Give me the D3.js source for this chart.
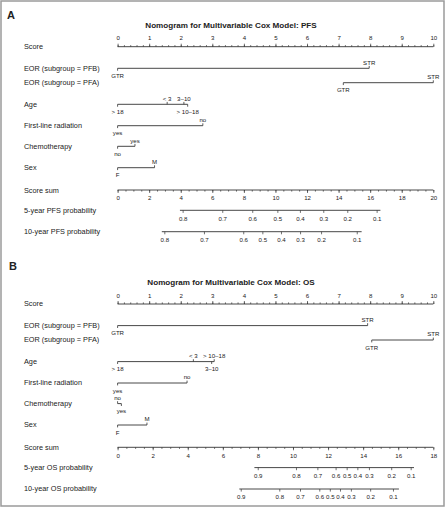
<!DOCTYPE html>
<html><head><meta charset="utf-8">
<script src="https://cdn.jsdelivr.net/npm/d3@7"></script>
<style>
body{margin:0;background:#fff}
svg{display:block}
text{font-family:"Liberation Sans",Arial,Helvetica,sans-serif;fill:#222}
</style>
</head><body>
<svg id="chart" width="446" height="509"></svg>
<script>
// ---------------- DATA ----------------
const panelLetters = ["A", "B"];
const panelTitles = ["Nomogram for Multivariable Cox Model: PFS", "Nomogram for Multivariable Cox Model: OS"];
const rowLabelsPFS = ["Score", "EOR (subgroup = PFB)", "EOR (subgroup = PFA)", "Age", "First-line radiation",
  "Chemotherapy", "Sex", "Score sum", "5-year PFS probability", "10-year PFS probability"];
const rowLabelsOS = ["Score", "EOR (subgroup = PFB)", "EOR (subgroup = PFA)", "Age", "First-line radiation",
  "Chemotherapy", "Sex", "Score sum", "5-year OS probability", "10-year OS probability"];

const scoreTicks = [0, 1, 2, 3, 4, 5, 6, 7, 8, 9, 10];
const scoreMinorStep = 0.2;

// Panel A (PFS): variable levels and their points
const pfsEorPfbLevels = ["GTR", "STR"];           const pfsEorPfbPoints = [0, 7.97];
const pfsEorPfaLevels = ["GTR", "STR"];           const pfsEorPfaPoints = [7.15, 10];
const pfsAgeLevels = ["> 18", "< 3", "3–10", "> 10–18"]; const pfsAgePoints = [0, 1.57, 2.1, 2.22];
const pfsRadLevels = ["yes", "no"];               const pfsRadPoints = [0, 2.7];
const pfsChemoLevels = ["no", "yes"];             const pfsChemoPoints = [0, 0.55];
const pfsSexLevels = ["F", "M"];                  const pfsSexPoints = [0, 1.17];
const pfsSumTicks = [0, 2, 4, 6, 8, 10, 12, 14, 16, 18, 20];
const pfs5Probs = [0.8, 0.7, 0.6, 0.5, 0.4, 0.3, 0.2, 0.1];
const pfs5Sums = [4.12, 6.63, 8.53, 10.12, 11.55, 13.03, 14.55, 16.41];
const pfs5Range = [3.95, 16.65];
const pfs10Probs = [0.8, 0.7, 0.6, 0.5, 0.4, 0.3, 0.2, 0.1];
const pfs10Sums = [2.96, 5.47, 7.96, 9.17, 10.35, 11.56, 12.89, 15.15];
const pfs10Range = [2.8, 15.46];

// Panel B (OS)
const osEorPfbLevels = ["GTR", "STR"];            const osEorPfbPoints = [0, 7.92];
const osEorPfaLevels = ["GTR", "STR"];            const osEorPfaPoints = [8.05, 10];
const osAgeLevels = ["> 18", "< 3", "3–10", "> 10–18"]; const osAgePoints = [0, 2.4, 2.98, 3.06];
const osRadLevels = ["yes", "no"];                const osRadPoints = [0, 2.2];
const osChemoLevels = ["no", "yes"];              const osChemoPoints = [0, 0.12];
const osSexLevels = ["F", "M"];                   const osSexPoints = [0, 0.93];
const osSumTicks = [0, 2, 4, 6, 8, 10, 12, 14, 16, 18];
const os5Probs = [0.9, 0.8, 0.7, 0.6, 0.5, 0.4, 0.3, 0.2, 0.1];
const os5Sums = [7.99, 10.17, 11.39, 12.43, 13.06, 13.67, 14.33, 15.6, 16.71];
const os5Range = [7.8, 16.9];
const os10Probs = [0.9, 0.8, 0.7, 0.6, 0.5, 0.4, 0.3, 0.2, 0.1];
const os10Sums = [7.02, 9.22, 10.40, 11.50, 12.10, 12.68, 13.30, 14.40, 15.70];
const os10Range = [6.94, 16.04];

// ---------------- LAYOUT ----------------
const X0 = 117.6, X1 = 433.3;
const rowY = [46.7, 68.3, 82.7, 104.3, 125.7, 146.3, 167.7, 190, 210.3, 231.7];
const panelOffsets = [0, 257.3];
const letterY = [15, 266];
const letterX = [7, 9];
const titleY = [25, 282];

const svg = d3.select("#chart");
svg.append("rect").attr("x", 1).attr("y", 1).attr("width", 443).attr("height", 505)
  .attr("fill", "none").attr("stroke", "#9a9a9a").attr("stroke-width", 1.5);

const LINE = "#333";
const FS_ROW = 7.3, FS_TICK = 6.1;

function variableRow(g, y, scale, levels, points, sides) {
  const gg = g.append("g").attr("transform", `translate(0,${y})`);
  gg.append("line").attr("x1", scale(d3.min(points))).attr("x2", scale(d3.max(points)))
    .attr("y1", 0).attr("y2", 0).attr("stroke", LINE).attr("stroke-width", 0.9);
  levels.forEach((lv, i) => {
    const x = scale(points[i]);
    const s = sides[i]; // -1 above, +1 below
    gg.append("line").attr("x1", x).attr("x2", x).attr("y1", 0).attr("y2", s * 2.4)
      .attr("stroke", LINE).attr("stroke-width", 0.8);
    gg.append("text").attr("x", x).attr("y", s < 0 ? -6.2 : 7.2)
      .attr("text-anchor", "middle").attr("dominant-baseline", "central")
      .attr("font-size", FS_TICK).text(lv);
  });
}

function styleAxis(sel) {
  sel.select(".domain").remove();
  sel.selectAll(".tick line").attr("stroke", LINE).attr("stroke-width", 0.7);
  sel.selectAll(".tick text").attr("font-size", FS_TICK).attr("fill", "#222")
    .attr("font-family", '"Liberation Sans",Arial,sans-serif');
}

function probRow(g, y, sumScale, probs, sums, range) {
  const gg = g.append("g").attr("transform", `translate(0,${y})`);
  gg.append("line").attr("x1", sumScale(range[0])).attr("x2", sumScale(range[1]))
    .attr("y1", 0).attr("y2", 0).attr("stroke", LINE).attr("stroke-width", 0.9);
  const ax = d3.axisBottom(sumScale).tickValues(sums).tickSize(2.6).tickPadding(3.5)
    .tickFormat((d, i) => d3.format(".1f")(probs[i]));
  gg.append("g").call(ax).call(styleAxis);
}

function drawPanel(p, cfg) {
  const g = svg.append("g").attr("transform", `translate(0,${panelOffsets[p]})`);
  svg.append("text").attr("x", letterX[p]).attr("y", letterY[p]).attr("dominant-baseline", "central")
    .attr("font-size", 11).attr("font-weight", "bold").attr("fill", "#111").text(panelLetters[p]);
  svg.append("text").attr("x", 231).attr("y", titleY[p]).attr("text-anchor", "middle")
    .attr("dominant-baseline", "central").attr("font-size", 8.1).attr("font-weight", "bold")
    .attr("fill", "#111").text(panelTitles[p]);

  // row labels
  cfg.rowLabels.forEach((t, i) => {
    g.append("text").attr("x", 24).attr("y", rowY[i]).attr("dominant-baseline", "central")
      .attr("font-size", FS_ROW).text(t);
  });

  const scale = d3.scaleLinear().domain([0, 10]).range([X0, X1]);
  const sumScale = d3.scaleLinear().domain([0, d3.max(cfg.sumTicks)]).range([X0, X1]);

  // Score axis
  const sg = g.append("g").attr("transform", `translate(0,${rowY[0]})`);
  sg.append("line").attr("x1", X0).attr("x2", X1).attr("stroke", LINE).attr("stroke-width", 0.9);
  sg.append("g").call(d3.axisTop(scale).tickValues(d3.range(0, 10.001, scoreMinorStep)).tickSize(1.6).tickFormat(""))
    .call(styleAxis);
  sg.append("g").call(d3.axisTop(scale).tickValues(scoreTicks).tickSize(3).tickPadding(3.5).tickFormat(d3.format("d")))
    .call(styleAxis);

  cfg.vars.forEach((v, k) => variableRow(g, rowY[k + 1], scale, v.levels, v.points, v.sides));

  // Score sum axis
  const ssg = g.append("g").attr("transform", `translate(0,${rowY[7]})`);
  ssg.append("line").attr("x1", X0).attr("x2", X1).attr("stroke", LINE).attr("stroke-width", 0.9);
  ssg.append("g").call(d3.axisBottom(sumScale).tickValues(d3.range(0, d3.max(cfg.sumTicks) + 0.001, 0.5)).tickSize(1.6).tickFormat(""))
    .call(styleAxis);
  ssg.append("g").call(d3.axisBottom(sumScale).tickValues(cfg.sumTicks).tickSize(3).tickPadding(3).tickFormat(d3.format("d")))
    .call(styleAxis);

  probRow(g, rowY[8], sumScale, cfg.p5.probs, cfg.p5.sums, cfg.p5.range);
  probRow(g, rowY[9], sumScale, cfg.p10.probs, cfg.p10.sums, cfg.p10.range);
}

drawPanel(0, {
  rowLabels: rowLabelsPFS,
  vars: [
    {levels: pfsEorPfbLevels, points: pfsEorPfbPoints, sides: [1, -1]},
    {levels: pfsEorPfaLevels, points: pfsEorPfaPoints, sides: [1, -1]},
    {levels: pfsAgeLevels, points: pfsAgePoints, sides: [1, -1, -1, 1]},
    {levels: pfsRadLevels, points: pfsRadPoints, sides: [1, -1]},
    {levels: pfsChemoLevels, points: pfsChemoPoints, sides: [1, -1]},
    {levels: pfsSexLevels, points: pfsSexPoints, sides: [1, -1]}
  ],
  sumTicks: pfsSumTicks,
  p5: {probs: pfs5Probs, sums: pfs5Sums, range: pfs5Range},
  p10: {probs: pfs10Probs, sums: pfs10Sums, range: pfs10Range}
});

drawPanel(1, {
  rowLabels: rowLabelsOS,
  vars: [
    {levels: osEorPfbLevels, points: osEorPfbPoints, sides: [1, -1]},
    {levels: osEorPfaLevels, points: osEorPfaPoints, sides: [1, -1]},
    {levels: osAgeLevels, points: osAgePoints, sides: [1, -1, 1, -1]},
    {levels: osRadLevels, points: osRadPoints, sides: [1, -1]},
    {levels: osChemoLevels, points: osChemoPoints, sides: [-1, 1]},
    {levels: osSexLevels, points: osSexPoints, sides: [1, -1]}
  ],
  sumTicks: osSumTicks,
  p5: {probs: os5Probs, sums: os5Sums, range: os5Range},
  p10: {probs: os10Probs, sums: os10Sums, range: os10Range}
});
</script>
</body></html>
